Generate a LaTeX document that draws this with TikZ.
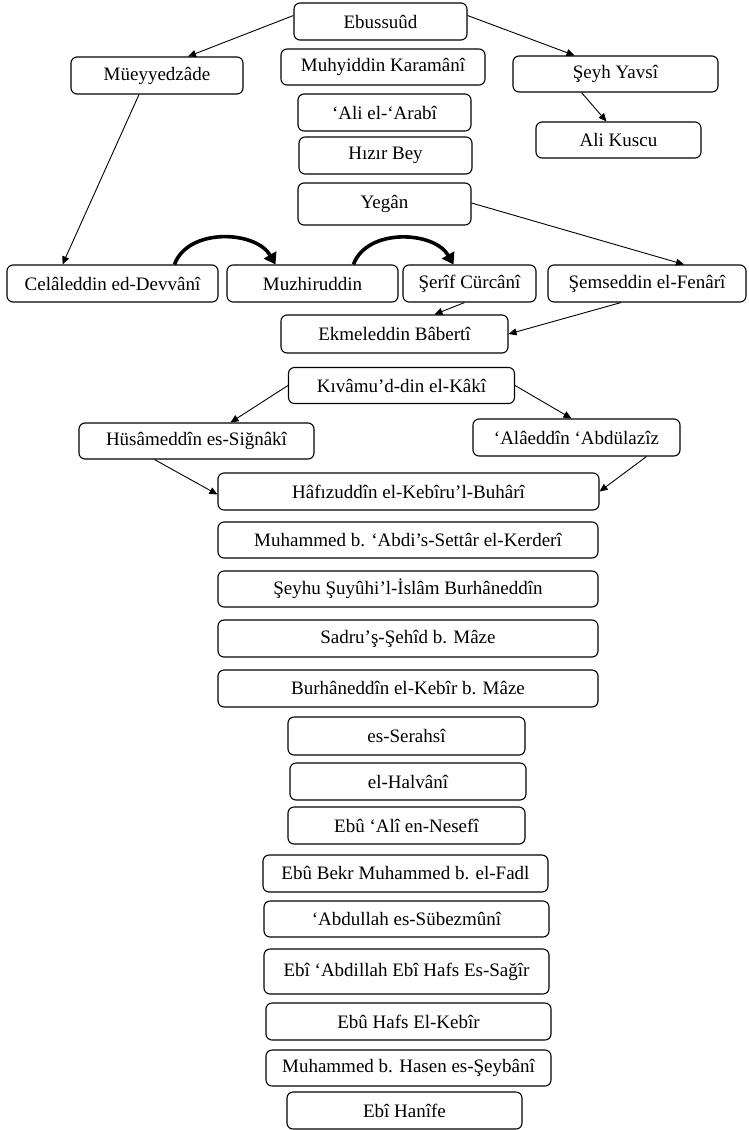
\documentclass[tikz,border=0pt]{standalone}
\usepackage{fontspec}
\setmainfont{Liberation Serif}
\usetikzlibrary{arrows.meta}

\tikzset{
  box/.style={draw, rounded corners=6pt, line width=1.1pt, inner sep=0pt,
    font=\fontsize{19}{21}\selectfont},
  arr/.style={-{Triangle[length=8pt,width=7pt]}, line width=0.9pt},
  thick arr/.style={-{Triangle[length=11pt,width=14pt]}, line width=3.6pt}
}

\begin{document}
\begin{tikzpicture}[x=1pt,y=-1pt]
                \useasboundingbox (0,0) rectangle (748,1130);

                \node (ebu) at (380.5,21.5) [box, minimum width=173pt, minimum height=37pt] {Ebussuûd};
                \node (mue) at (157,75.5) [box, minimum width=172pt, minimum height=37pt] {Müeyyedzâde};
                \node (muh) at (383,67) [box, minimum width=204pt, minimum height=36pt] {Muhyiddin Karamânî};
                \node (seyh) at (615.5,74) [box, minimum width=205pt, minimum height=36pt] {Şeyh Yavsî};
                \node (ali) at (384.5,112.5) [box, minimum width=173pt, minimum height=37pt] {‘Ali el-‘Arabî};
                \node (hizir) at (385.5,155.5) [box, minimum width=173pt, minimum height=37pt] {Hızır Bey};
                \node (kuscu) at (618.5,140) [box, minimum width=165pt, minimum height=36pt] {Ali Kuscu};
                \node (yegan) at (384.5,204) [box, minimum width=173pt, minimum height=42pt] {Yegân};

                \node (cel) at (112.5,283.5) [box, minimum width=211pt, minimum height=37pt] {Celâleddin ed-Devvânî};
                \node (muz) at (312.5,283.5) [box, minimum width=171pt, minimum height=37pt] {Muzhiruddin};
                \node (serif) at (469.5,283.5) [box, minimum width=133pt, minimum height=37pt] {Şerîf Cürcânî};
                \node (sem) at (647,283.5) [box, minimum width=198pt, minimum height=37pt] {Şemseddin el-Fenârî};
                \node (ekm) at (394.5,334) [box, minimum width=227pt, minimum height=38pt] {Ekmeleddin Bâbertî};
                \node (kiv) at (401.5,385.5) [box, minimum width=226pt, minimum height=36pt] {Kıvâmu’d-din el-Kâkî};
                \node (hus) at (196.5,441) [box, minimum width=235pt, minimum height=36pt] {Hüsâmeddîn es-Siğnâkî};
                \node (ala) at (576.5,437.5) [box, minimum width=207pt, minimum height=37pt] {‘Alâeddîn ‘Abdülazîz};
                \node (haf) at (408.5,491.5) [box, minimum width=381pt, minimum height=37pt] {Hâfızuddîn el-Kebîru’l-Buhârî};

                \node (kerd) at (408,540) [box, minimum width=380pt, minimum height=36pt] {Muhammed b. ‘Abdi’s-Settâr el-Kerderî};
                \node (seyhu) at (408,589) [box, minimum width=380pt, minimum height=36pt] {Şeyhu Şuyûhi’l-İslâm Burhâneddîn};
                \node (sadru) at (408,638.5) [box, minimum width=380pt, minimum height=37pt] {Sadru’ş-Şehîd b. Mâze};
                \node (burhan) at (408,688.5) [box, minimum width=380pt, minimum height=37pt] {Burhâneddîn el-Kebîr b. Mâze};
                \node (serahsi) at (406.5,736) [box, minimum width=237pt, minimum height=38pt] {es-Serahsî};
                \node (halvani) at (408,781.5) [box, minimum width=236pt, minimum height=37pt] {el-Halvânî};
                \node (nesefi) at (406.5,825.5) [box, minimum width=237pt, minimum height=37pt] {Ebû ‘Alî en-Nesefî};
                \node (fadl) at (405.5,873.5) [box, minimum width=285pt, minimum height=37pt] {Ebû Bekr Muhammed b. el-Fadl};
                \node (sube) at (406.5,919) [box, minimum width=285pt, minimum height=36pt] {‘Abdullah es-Sübezmûnî};
                \node (sagir) at (406.5,971.5) [box, minimum width=285pt, minimum height=45pt] {Ebî ‘Abdillah Ebî Hafs Es-Sağîr};
                \node (hafs) at (408.5,1021.5) [box, minimum width=285pt, minimum height=37pt] {Ebû Hafs El-Kebîr};
                \node (seybani) at (408.5,1068) [box, minimum width=285pt, minimum height=36pt] {Muhammed b. Hasen es-Şeybânî};
                \node (hanife) at (404.5,1110.5) [box, minimum width=235pt, minimum height=37pt] {Ebî Hanîfe};

                \draw[arr] ([yshift=6pt]ebu.west) -- ([xshift=31pt]mue.north);
                \draw[arr] ([yshift=6pt]ebu.east) -- ([xshift=-41pt]seyh.north);
                \draw[arr] ([xshift=-34pt]seyh.south) -- ([xshift=-12pt]kuscu.north);
                \draw[arr] ([xshift=-18pt]mue.south) -- ([xshift=-50pt]cel.north);
                \draw[arr] ([yshift=1pt]yegan.east) -- ([xshift=37pt]sem.north);
                \draw[arr] ([xshift=-5pt]serif.south) -- ([xshift=40pt]ekm.north);
                \draw[arr] ([xshift=-26pt]sem.south) -- (ekm.east);
                \draw[arr] (kiv.west) -- ([xshift=34pt]hus.north);
                \draw[arr] (kiv.east) -- ([xshift=-5pt]ala.north);
                \draw[arr] ([xshift=-42pt]hus.south) -- ([yshift=-3pt]haf.west);
                \draw[arr] ([xshift=70pt]ala.south) -- (haf.east);

                \draw[thick arr] ([xshift=62pt]cel.north) to[out=70,in=120] ([xshift=-37pt]muz.north);
                \draw[thick arr] ([xshift=41pt]muz.north) to[out=70,in=120] ([xshift=-16pt]serif.north);
            \end{tikzpicture}
\end{document}
